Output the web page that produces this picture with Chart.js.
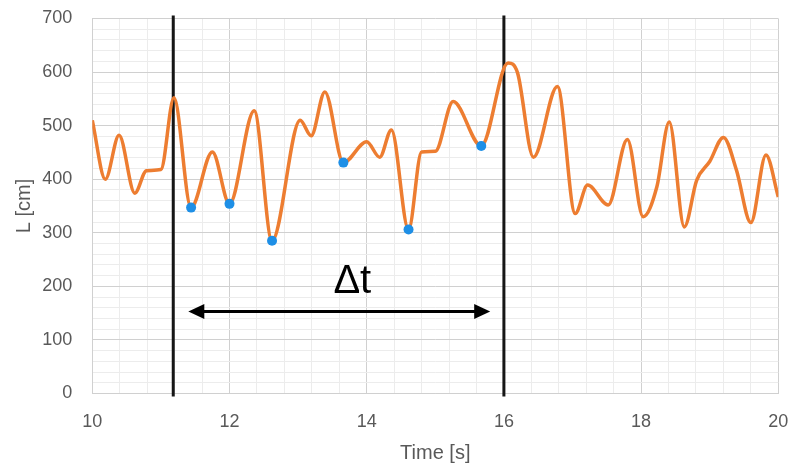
<!DOCTYPE html>
<html>
<head>
<meta charset="utf-8">
<script src="https://cdn.jsdelivr.net/npm/chart.js@4.4.1/dist/chart.umd.min.js"></script>
<style>
html, body { margin: 0; padding: 0; background: #fff; }
#wrap { width: 791px; height: 465px; }
</style>
</head>
<body>
<div id="wrap"><canvas id="grafico" width="791" height="465"></canvas></div>
<script>
// L(t) signal, time in seconds, length in cm
var tiempos = [10.00, 10.19, 10.39, 10.62, 10.79, 11.00, 11.19, 11.44, 11.75, 12.00,
               12.36, 12.62, 13.03, 13.19, 13.39, 13.66, 14.00, 14.19, 14.36, 14.61,
               14.80, 15.00, 15.26, 15.67, 16.06, 16.20, 16.43, 16.78, 17.04, 17.22,
               17.52, 17.80, 18.03, 18.23, 18.41, 18.63, 18.81, 19.00, 19.20, 19.39,
               19.60, 19.82, 20.00];
var longitudes = [510, 400, 482, 374, 416, 418, 552, 347, 451, 354,
                  528, 285, 510, 481, 563, 431, 470, 441, 492, 306,
                  451, 452, 545, 462, 617, 598, 441, 573, 336, 389,
                  352, 474, 330, 386, 507, 311, 398, 433, 478, 417,
                  319, 445, 367];

// local minima marked inside the window
var minimosT = [11.44, 12.00, 12.62, 13.66, 14.61, 15.67];
var minimosL = [347, 354, 285, 431, 306, 462];

// window limits and the Δt arrow
var ventanaT = [11.18, 16.00];
var flechaT = [11.40, 15.80];
var flechaL = 153;
var textoFlecha = "Δt";
var textoT = 13.79;
var textoL = 188;

var ticksX = { min: 10, max: 20, paso: 0.4, etiqueta: 2 };
var ticksY = { min: 0, max: 700, paso: 20, etiqueta: 100 };

var gris = '#595959';
var fuente = "'Liberation Sans', Arial, sans-serif";

function esMultiplo(v, m){
    return Math.abs(v / m - Math.round(v / m)) < 1e-6;
}

function puntos(xs, ys){
    return xs.map(function(t, i){ return { x: t, y: ys[i] }; });
}

function flecha(ctx, x1, x2, y){
    var largo = 16, medio = 7.5;
    ctx.beginPath();
    ctx.moveTo(x1 + largo - 2, y);
    ctx.lineTo(x2 - largo + 2, y);
    ctx.stroke();
    ctx.beginPath();
    ctx.moveTo(x1, y);
    ctx.lineTo(x1 + largo, y - medio);
    ctx.lineTo(x1 + largo, y + medio);
    ctx.closePath();
    ctx.fill();
    ctx.beginPath();
    ctx.moveTo(x2, y);
    ctx.lineTo(x2 - largo, y - medio);
    ctx.lineTo(x2 - largo, y + medio);
    ctx.closePath();
    ctx.fill();
}

var marcas = {
    id: 'marcas',
    beforeDatasetsDraw: function(chart){
        var ctx = chart.ctx, xs = chart.scales.x, area = chart.chartArea;
        ctx.save();
        ctx.strokeStyle = '#161616';
        ctx.lineWidth = 3;
        ventanaT.forEach(function(t){
            var px = xs.getPixelForValue(t);
            ctx.beginPath();
            ctx.moveTo(px, area.top - 3);
            ctx.lineTo(px, area.bottom + 3);
            ctx.stroke();
        });
        ctx.restore();
    },
    afterDatasetsDraw: function(chart){
        var ctx = chart.ctx, xs = chart.scales.x, ys = chart.scales.y;
        ctx.save();
        ctx.strokeStyle = '#000';
        ctx.fillStyle = '#000';
        ctx.lineWidth = 3;
        flecha(ctx, xs.getPixelForValue(flechaT[0]), xs.getPixelForValue(flechaT[1]), ys.getPixelForValue(flechaL));
        ctx.font = "40px " + fuente;
        ctx.textAlign = 'center';
        ctx.textBaseline = 'alphabetic';
        ctx.fillText(textoFlecha, xs.getPixelForValue(textoT), ys.getPixelForValue(textoL));
        ctx.restore();
    }
};

function Mostrar_Grafico(){
    var config = {
        type: 'line',
        data: {
            datasets: [{
                label: 'mínimos',
                data: puntos(minimosT, minimosL),
                showLine: false,
                pointRadius: 5,
                pointHoverRadius: 5,
                pointBackgroundColor: '#1E8FE6',
                pointBorderWidth: 0,
                order: 0
            }, {
                label: 'L',
                data: puntos(tiempos, longitudes),
                borderColor: '#ED7D31',
                borderWidth: 3.5,
                pointRadius: 0,
                tension: 0.4,
                cubicInterpolationMode: 'monotone',
                fill: false,
                order: 1
            }]
        },
        options: {
            responsive: false,
            devicePixelRatio: 1,
            animation: false,
            layout: { padding: { left: 0, right: 12.7, top: 18.5, bottom: 0 } },
            plugins: {
                legend: { display: false },
                tooltip: { enabled: false }
            },
            scales: {
                x: {
                    type: 'linear',
                    min: ticksX.min,
                    max: ticksX.max,
                    afterFit: function(scale){
                        scale.height = 71.5;
                        scale.paddingLeft = 10;
                        scale.paddingRight = 10;
                    },
                    border: { color: '#d0d0d0' },
                    grid: {
                        drawTicks: false,
                        color: function(c){ return esMultiplo(c.tick.value, ticksX.etiqueta) ? '#d0d0d0' : '#ececec'; }
                    },
                    ticks: {
                        stepSize: ticksX.paso,
                        autoSkip: false,
                        maxRotation: 0,
                        padding: 18,
                        color: gris,
                        font: { family: fuente, size: 18 },
                        callback: function(v){ return esMultiplo(v, ticksX.etiqueta) ? String(Math.round(v)) : ''; }
                    },
                    title: {
                        display: true,
                        text: 'Time [s]',
                        color: gris,
                        font: { family: fuente, size: 20 },
                        padding: { top: 0, bottom: 0 }
                    }
                },
                y: {
                    min: ticksY.min,
                    max: ticksY.max,
                    afterFit: function(scale){
                        scale.width = 92.3;
                        scale.paddingTop = 11;
                        scale.paddingBottom = 11;
                    },
                    border: { color: '#d0d0d0' },
                    grid: {
                        drawTicks: false,
                        color: function(c){ return esMultiplo(c.tick.value, ticksY.etiqueta) ? '#d0d0d0' : '#ececec'; }
                    },
                    ticks: {
                        stepSize: ticksY.paso,
                        autoSkip: false,
                        padding: 20,
                        color: gris,
                        font: { family: fuente, size: 18 },
                        callback: function(v){ return esMultiplo(v, ticksY.etiqueta) ? String(v) : ''; }
                    },
                    title: {
                        display: true,
                        text: 'L [cm]',
                        color: gris,
                        font: { family: fuente, size: 20 },
                        padding: { top: 12, bottom: 0 }
                    }
                }
            }
        },
        plugins: [marcas]
    };
    var canvas = document.getElementById('grafico').getContext('2d');
    window.grafico = new Chart(canvas, config);
}

Mostrar_Grafico();
</script>
</body>
</html>
